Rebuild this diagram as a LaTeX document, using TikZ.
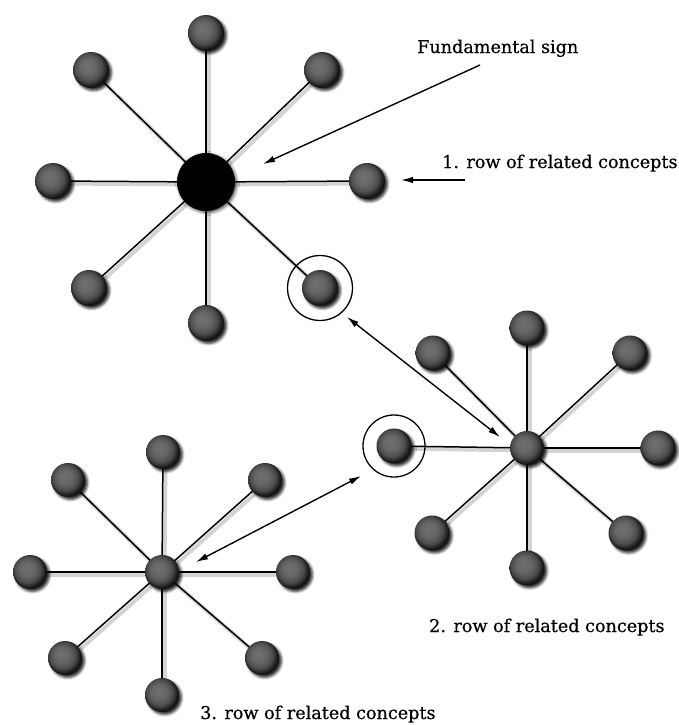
\documentclass[tikz,border=0pt]{standalone}
\usepackage{fontspec}
\setmainfont{DejaVu Serif}
\usetikzlibrary{arrows.meta,shadows.blur,backgrounds}
\pgfdeclareradialshading{sball}{\pgfqpoint{-6bp}{6bp}}{color(0bp)=(black!56); color(11bp)=(black!60); color(19bp)=(black!70); color(26bp)=(black!92); color(50bp)=(black)}
\tikzset{
  ball/.style={circle, minimum size=#1, inner sep=0pt, draw=none, shade, shading=sball,
    blur shadow={shadow xshift=2.5pt, shadow yshift=-2.5pt, shadow blur radius=2.5pt, shadow opacity=85}},
  hub/.style={circle, minimum size=#1, inner sep=0pt, fill=black,
    blur shadow={shadow xshift=1.5pt, shadow yshift=-1.5pt, shadow blur radius=3pt, shadow opacity=70}},
  ring/.style={circle, minimum size=#1, inner sep=0pt, draw=black, line width=1.3pt},
  spoke/.style={draw=black, line width=1.5pt},
  spokeshadow/.style={draw=black!17, line width=4pt},
  arr/.style={draw=black, line width=1.4pt, -{Latex[length=12pt,width=6.5pt]}},
  dbl/.style={draw=black, line width=1.4pt, {Latex[length=12pt,width=6.5pt]}-{Latex[length=12pt,width=6.5pt]}},
  lbl/.style={inner sep=0pt, font=\fontsize{17.6}{20}\selectfont\addfontfeature{FakeBold=0.5}, anchor=base west}
}
\begin{document}
\begin{tikzpicture}[x=1pt,y=-1pt]
\useasboundingbox (0,0) rectangle (678,725);
% ---- star 1
\node[hub=58] (A0) at (206,182) {};
\foreach \n/\p in {1/{(206,33)},2/{(322,70)},3/{(367,181)},4/{(320,288)},5/{(206,323)},6/{(89,288)},7/{(53,181)},8/{(91,70)}}
  \node[ball=36] (A\n) at \p {};
% ---- star 2
\node[ball=34] (B0) at (527,448) {};
\foreach \n/\p in {1/{(527,328)},2/{(630,353)},3/{(658,448)},4/{(626,533)},5/{(527,568)},6/{(432,533)},7/{(394,446)},8/{(433,353)}}
  \node[ball=35] (B\n) at \p {};
% ---- star 3
\node[ball=34] (C0) at (162,572) {};
\foreach \n/\p in {1/{(163,452)},2/{(265,480)},3/{(293,572)},4/{(262,658)},5/{(162,695)},6/{(65,658)},7/{(30,572)},8/{(68,480)}}
  \node[ball=34] (C\n) at \p {};
% ---- spokes
\begin{scope}[on background layer]
\foreach \s in {A,B,C}{
  \foreach \n in {1,...,8}{
    \draw[spokeshadow] ([shift={(2.5,2.5)}]\s0.center) -- ([shift={(2.5,2.5)}]\s\n.center);
  }
  \foreach \n in {1,...,8}{
    \draw[spoke] (\s0.center) -- (\s\n.center);
  }
}
\end{scope}
% ---- rings
\node[ring=65] (R1) at (320,288) {};
\node[ring=62] (R2) at (394,446) {};
% ---- labels
\node[lbl] (T0) at (417,53) {Fundamental sign};
\node[lbl] (T1) at (442,168) {1. row of related concepts};
\node[lbl] (T2) at (429,632) {2. row of related concepts};
\node[lbl] (T3) at (200,719) {3. row of related concepts};
% ---- arrows
\coordinate (f0) at (480,65);
\coordinate (f1) at (263,164);
\coordinate (g0) at (465,180);
\coordinate (g1) at (401,180);
\coordinate (h0) at (347,317);
\coordinate (h1) at (500,437);
\coordinate (k0) at (361,476);
\coordinate (k1) at (196,562);
\draw[arr] (f0) -- (f1);
\draw[arr] (g0) -- (g1);
\draw[dbl] (h0) -- (h1);
\draw[dbl] (k0) -- (k1);
\end{tikzpicture}
\end{document}
